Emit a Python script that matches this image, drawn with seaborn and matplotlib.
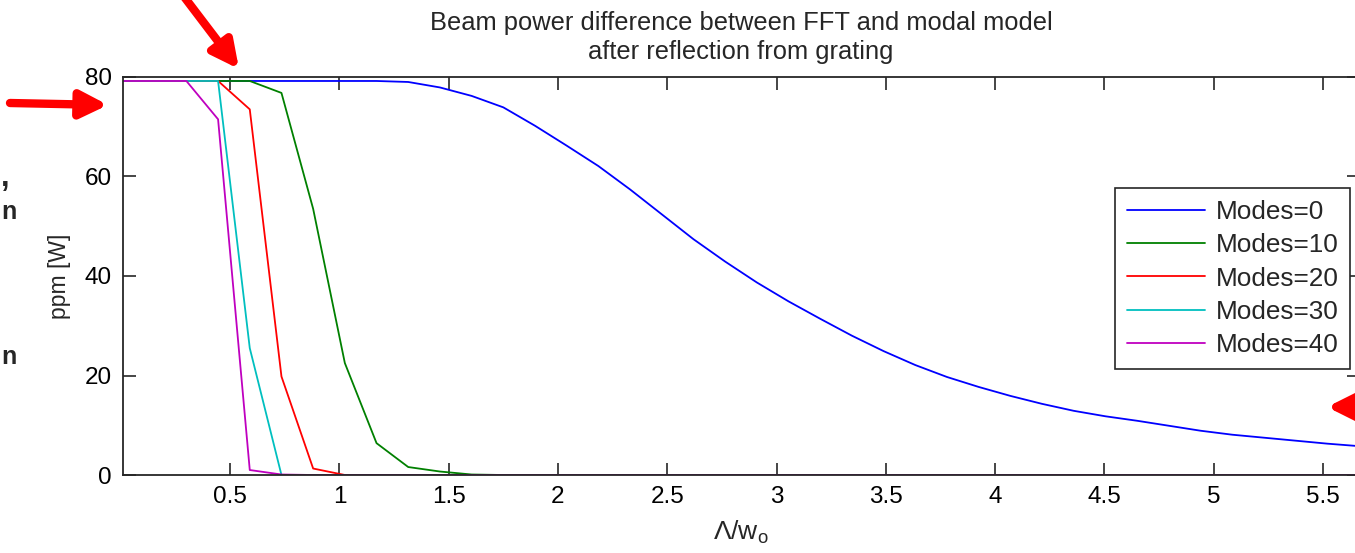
import numpy as np
import pandas as pd
import matplotlib
matplotlib.use("Agg")
import matplotlib.pyplot as plt
import seaborn as sns

sns.set_theme(style="ticks")
plt.rcParams['font.family'] = ['Liberation Sans', 'DejaVu Sans']
plt.rcParams['mathtext.fontset'] = 'custom'
plt.rcParams['mathtext.rm'] = 'Liberation Sans'
plt.rcParams['mathtext.it'] = 'Liberation Sans'

# grating period / beam waist (sample points)
x_vals = [0.01, 0.155, 0.30, 0.445, 0.59, 0.735, 0.88, 1.025, 1.17, 1.315,
          1.46, 1.605, 1.75, 1.895, 2.04, 2.185, 2.33, 2.475, 2.62, 2.765,
          2.91, 3.055, 3.2, 3.345, 3.49, 3.635, 3.78, 3.925, 4.07, 4.215,
          4.36, 4.505, 4.65, 4.795, 4.94, 5.085, 5.23, 5.375, 5.52, 5.665]

modes_0 = [79.2, 79.2, 79.2, 79.2, 79.2, 79.2, 79.2, 79.2, 79.2, 79.0,
           77.9, 76.2, 73.9, 70.2, 66.2, 62.1, 57.4, 52.4, 47.4, 42.9,
           38.7, 34.9, 31.4, 28.0, 24.9, 22.1, 19.7, 17.7, 15.9, 14.3,
           12.9, 11.8, 10.9, 9.9, 8.9, 8.1, 7.5, 6.9, 6.3, 5.8]
modes_10 = [79.2, 79.2, 79.2, 79.2, 79.2, 76.8, 53.5, 22.5, 6.4, 1.6,
            0.7, 0.1] + [0.0] * 28
modes_20 = [79.2, 79.2, 79.2, 79.2, 73.5, 19.8, 1.3] + [0.0] * 33
modes_30 = [79.2, 79.2, 79.2, 79.2, 25.5, 0.0] + [0.0] * 34
modes_40 = [79.2, 79.2, 79.2, 71.5, 1.0, 0.1] + [0.0] * 34

labels = ["Modes=0", "Modes=10", "Modes=20", "Modes=30", "Modes=40"]
colors = ["#0000ff", "#008000", "#ff0000", "#00bfbf", "#bf00bf"]

df = pd.concat([
    pd.DataFrame({"x": x_vals, "ppm": y, "Modes": lab})
    for lab, y in zip(labels, [modes_0, modes_10, modes_20, modes_30, modes_40])
])

fig = plt.figure(figsize=(13.55, 5.53), dpi=100)
ax = fig.add_axes([123 / 1355, 78 / 553, 1236 / 1355, 398 / 553])

sns.lineplot(data=df, x="x", y="ppm", hue="Modes", hue_order=labels,
             palette=colors, linewidth=1.3, estimator=None, sort=False,
             ax=ax, legend=False)

ax.set_xlim(0.01, 5.665)
ax.set_ylim(0, 80)
ax.set_xticks([0.5, 1, 1.5, 2, 2.5, 3, 3.5, 4, 4.5, 5, 5.5])
ax.set_xticklabels(["0.5", "1", "1.5", "2", "2.5", "3", "3.5", "4", "4.5", "5", "5.5"])
ax.set_yticks([0, 20, 40, 60, 80])
ax.tick_params(direction="in", length=9, width=1.2, colors="#262626",
               labelsize=17.5, pad=8, top=True, right=True, labelcolor="black")
for s in ax.spines.values():
    s.set_color("#262626")
    s.set_linewidth(1.3)

ax.set_title("Beam power difference between FFT and modal model\nafter reflection from grating",
             fontsize=18.4, pad=13, linespacing=1.27)
ax.set_xlabel(r"$\Lambda$/w$_\mathrm{o}$", fontsize=19, labelpad=8)
ax.set_ylabel("ppm [W]", fontsize=16.5, labelpad=10)

handles = [plt.Line2D([], [], color=c, lw=1.3) for c in colors]
leg = ax.legend(handles, labels, loc="upper left",
                bbox_to_anchor=(1115 / 1355, 1 - 188 / 553),
                bbox_transform=fig.transFigure, borderaxespad=0,
                fontsize=18.8, frameon=True, fancybox=False, framealpha=1,
                handlelength=3.0, handletextpad=0.4, labelspacing=0.36,
                borderpad=0.45)
leg.get_frame().set_edgecolor("#262626")
leg.get_frame().set_linewidth(1.2)

# red slide arrows (figure pixel coordinates)
arrow = dict(arrowstyle="-|>", color="#ff0000", lw=6, mutation_scale=40,
             shrinkA=0, shrinkB=0)
H = 553
ax.annotate("", xy=(239, H - 69), xytext=(182, H + 6),
            xycoords="figure pixels", textcoords="figure pixels",
            arrowprops=arrow, annotation_clip=False)
ax.annotate("", xy=(108, H - 105), xytext=(10, H - 103),
            xycoords="figure pixels", textcoords="figure pixels",
            arrowprops=arrow, annotation_clip=False)
ax.annotate("", xy=(1327, H - 407), xytext=(1365, H - 407),
            xycoords="figure pixels", textcoords="figure pixels",
            arrowprops=arrow, annotation_clip=False)

# slide text fragments at the left edge
fig.text(1 / 1355, 1 - 178 / H, ",", fontsize=22, fontweight="bold",
         ha="left", va="center")
fig.text(1 / 1355, 1 - 212 / H, "n", fontsize=18, fontweight="bold",
         ha="left", va="center")
fig.text(1 / 1355, 1 - 357 / H, "n", fontsize=18, fontweight="bold",
         ha="left", va="center")

fig.savefig("out.png", dpi=100)
